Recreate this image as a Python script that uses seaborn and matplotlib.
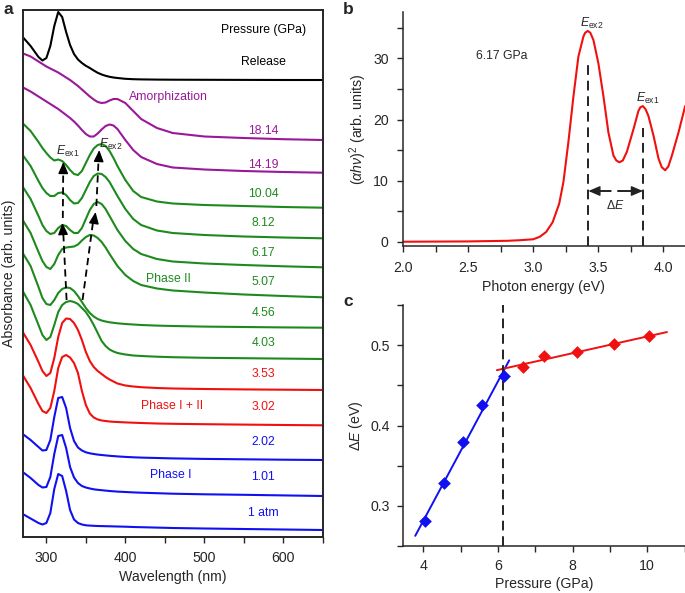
import numpy as np
import pandas as pd
import matplotlib
matplotlib.use("Agg")
import matplotlib.pyplot as plt
from matplotlib.ticker import MultipleLocator
import seaborn as sns

# ---------------- Panel a data (stacked absorbance, arb. units) ----------------
wavelength = [270, 280, 290, 295, 300, 305, 310, 315, 320, 325, 330, 335, 340, 345, 350, 355,
              360, 365, 370, 375, 380, 385, 390, 400, 410, 420, 440, 460, 500, 550, 600, 650]

abs_1atm = [2.60, 2.15, 1.70, 1.55, 1.70, 2.70, 5.10, 6.60, 6.40, 4.90, 3.00, 2.05, 1.70, 1.55, 1.47, 1.44,
            1.42, 1.40, 1.39, 1.38, 1.37, 1.36, 1.35, 1.33, 1.30, 1.28, 1.24, 1.20, 1.15, 1.10, 1.05, 1.00]
abs_1_01 = [6.80, 6.20, 5.50, 5.25, 5.30, 6.30, 8.60, 10.40, 10.50, 9.20, 7.30, 6.25, 5.70, 5.40, 5.25, 5.15,
            5.07, 5.02, 4.98, 4.94, 4.90, 4.87, 4.84, 4.80, 4.76, 4.73, 4.68, 4.63, 4.57, 4.52, 4.46, 4.40]
abs_2_02 = [10.60, 10.00, 9.30, 8.95, 9.00, 10.00, 12.30, 14.20, 14.30, 13.20, 11.20, 9.90, 9.25, 8.95, 8.77, 8.67,
            8.60, 8.54, 8.50, 8.46, 8.42, 8.39, 8.36, 8.31, 8.27, 8.24, 8.20, 8.16, 8.11, 8.07, 8.03, 8.00]
abs_3_02 = [16.50, 15.20, 13.60, 12.90, 12.70, 13.20, 14.90, 17.20, 18.30, 18.50, 18.25, 17.70, 16.70, 14.90, 13.50, 12.65,
            12.25, 12.05, 11.95, 11.90, 11.85, 11.82, 11.80, 11.76, 11.73, 11.70, 11.65, 11.62, 11.58, 11.54, 11.50, 11.47]
abs_3_53 = [20.80, 19.50, 17.80, 16.90, 16.40, 16.70, 18.20, 20.30, 21.70, 22.15, 22.10, 21.70, 21.00, 20.00, 18.80, 17.90,
            17.30, 16.90, 16.60, 16.30, 16.05, 15.85, 15.65, 15.45, 15.35, 15.28, 15.20, 15.15, 15.10, 15.06, 15.03, 15.00]
abs_4_03 = [24.90, 23.50, 21.50, 20.50, 20.00, 20.30, 21.50, 22.80, 23.50, 23.80, 23.90, 23.80, 23.60, 23.20, 22.80, 22.20,
            21.50, 20.70, 19.90, 19.40, 19.05, 18.85, 18.70, 18.55, 18.45, 18.40, 18.33, 18.28, 18.22, 18.18, 18.14, 18.10]
abs_4_56 = [28.70, 27.40, 25.30, 24.20, 23.60, 23.50, 24.00, 24.70, 25.10, 25.25, 25.20, 24.90, 24.40, 23.80, 23.20, 22.70,
            22.35, 22.10, 21.95, 21.85, 21.77, 21.72, 21.67, 21.60, 21.55, 21.50, 21.44, 21.40, 21.34, 21.30, 21.26, 21.23]
abs_5_07 = [32.00, 30.70, 28.80, 27.90, 27.30, 27.10, 27.60, 28.50, 29.10, 29.25, 29.30, 29.35, 29.55, 29.95, 30.30, 30.50,
            30.45, 30.20, 29.80, 29.25, 28.60, 28.00, 27.40, 26.50, 25.90, 25.50, 25.15, 24.95, 24.75, 24.55, 24.40, 24.27]
abs_6_17 = [35.33, 34.10, 32.40, 31.50, 30.90, 30.60, 30.70, 31.20, 31.50, 31.40, 31.00, 30.70, 30.70, 31.20, 32.10, 33.00,
            33.60, 33.80, 33.60, 33.10, 32.40, 31.70, 31.00, 29.90, 29.10, 28.60, 28.10, 27.85, 27.65, 27.50, 27.37, 27.27]
abs_8_12 = [38.50, 37.40, 35.90, 35.20, 34.70, 34.40, 34.40, 34.70, 34.75, 34.50, 34.00, 33.65, 33.70, 34.20, 35.00, 35.80,
            36.40, 36.65, 36.60, 36.30, 35.80, 35.10, 34.40, 33.10, 32.10, 31.50, 30.95, 30.70, 30.50, 30.35, 30.25, 30.17]
abs_10_04 = [41.67, 40.90, 39.80, 39.20, 38.70, 38.25, 37.95, 38.05, 37.90, 37.50, 37.00, 36.60, 36.50, 36.90, 37.70, 38.50,
             39.15, 39.50, 39.60, 39.40, 38.90, 38.20, 37.40, 36.00, 34.90, 34.30, 33.85, 33.65, 33.50, 33.40, 33.30, 33.23]
abs_14_19 = [45.27, 44.85, 44.35, 44.10, 43.85, 43.60, 43.35, 43.10, 42.80, 42.50, 42.20, 41.85, 41.45, 41.00, 40.60, 40.35,
             40.35, 40.65, 41.05, 41.40, 41.55, 41.45, 41.10, 40.00, 39.00, 38.30, 37.60, 37.25, 37.05, 36.90, 36.80, 36.73]
abs_18_14 = [48.67, 48.35, 47.85, 47.60, 47.35, 47.15, 46.95, 46.75, 46.50, 46.25, 46.00, 45.70, 45.40, 45.05, 44.70, 44.35,
             44.05, 43.80, 43.70, 43.75, 43.95, 44.10, 44.10, 43.70, 42.90, 42.10, 41.20, 40.70, 40.35, 40.20, 40.08, 40.00]
abs_release = [50.30, 49.40, 48.30, 47.95, 48.20, 49.40, 51.40, 52.80, 52.30, 50.80, 49.50, 48.60, 48.05, 47.70, 47.42, 47.20,
               46.95, 46.72, 46.55, 46.42, 46.32, 46.25, 46.20, 46.12, 46.08, 46.06, 46.04, 46.03, 46.02, 46.01, 46.00, 46.00]

curve_labels = ["1 atm", "1.01", "2.02", "3.02", "3.53", "4.03", "4.56", "5.07",
                "6.17", "8.12", "10.04", "14.19", "18.14", "Release"]
curve_values = [abs_1atm, abs_1_01, abs_2_02, abs_3_02, abs_3_53, abs_4_03, abs_4_56, abs_5_07,
                abs_6_17, abs_8_12, abs_10_04, abs_14_19, abs_18_14, abs_release]

BLUE, RED, GREEN, PURPLE, BLACK = "#1010f0", "#f01010", "#1e8a1e", "#9a189a", "#000000"
curve_colors = [BLUE, BLUE, BLUE, RED, RED, GREEN, GREEN, GREEN, GREEN, GREEN, GREEN, PURPLE, PURPLE, BLACK]

# label y positions (arb. units) for the pressure values
label_y = [2.73, 6.33, 9.83, 13.33, 16.57, 19.67, 22.67, 25.83, 28.7, 31.7, 34.6, 37.5, 40.9, 47.77]

# ---------------- Panel b data ----------------
photon_energy = [2.0, 2.5, 2.8, 2.9, 3.0, 3.05, 3.1, 3.15, 3.2, 3.233, 3.271, 3.31, 3.348, 3.387, 3.40, 3.42,
                 3.44, 3.464, 3.502, 3.541, 3.579, 3.618, 3.64, 3.664, 3.69, 3.721, 3.772, 3.81, 3.825, 3.844,
                 3.865, 3.887, 3.926, 3.965, 3.99, 4.016, 4.04, 4.068, 4.119, 4.17]
ahv_sq = [0.0, 0.05, 0.15, 0.25, 0.4, 0.8, 1.6, 3.2, 6.2, 9.8, 16.3, 23.8, 30.3, 33.6, 34.2, 34.5,
          34.2, 33.0, 29.2, 23.8, 17.9, 14.1, 13.3, 13.0, 13.3, 14.7, 18.4, 21.4, 22.0, 22.2,
          21.7, 20.6, 17.4, 13.6, 12.2, 11.7, 12.3, 14.1, 17.9, 22.2]
E_ex2, E_ex1 = 3.425, 3.845

# ---------------- Panel c data ----------------
p_phase1 = [4.03, 4.56, 5.07, 5.57, 6.15]
dE_phase1 = [0.281, 0.329, 0.379, 0.425, 0.461]
p_phase2 = [6.67, 7.22, 8.12, 9.10, 10.04]
dE_phase2 = [0.473, 0.486, 0.491, 0.501, 0.511]
fit_range1 = [3.78, 6.30]
fit_range2 = [5.97, 10.53]
p_transition = 6.13

# ---------------- style ----------------
sns.set_style("ticks")
plt.rcParams["font.family"] = ["Liberation Sans", "DejaVu Sans"]
plt.rcParams["mathtext.fontset"] = "custom"
plt.rcParams["mathtext.rm"] = "Liberation Sans"
plt.rcParams["mathtext.it"] = "Liberation Sans:italic"
plt.rcParams["mathtext.bf"] = "Liberation Sans:bold"
plt.rcParams["axes.linewidth"] = 1.1
plt.rcParams["xtick.major.width"] = 1.0
plt.rcParams["ytick.major.width"] = 1.0
plt.rcParams["xtick.minor.width"] = 1.0
plt.rcParams["ytick.minor.width"] = 1.0

FS_AX = 10.2
FS_TXT = 8.8
TPAD = 6

fig = plt.figure(figsize=(6.85, 5.93), dpi=100)
W, H = 685.0, 593.0


def rect(l, t, r, b):
    return [l / W, 1 - b / H, (r - l) / W, (b - t) / H]


axa = fig.add_axes(rect(22.7, 10, 322.7, 537))
axb = fig.add_axes(rect(403.3, 12, 684.5, 246))
axc = fig.add_axes(rect(403.3, 305, 684.5, 546))

# ---------------- Panel a ----------------
rows = []
for lab, vals in zip(curve_labels, curve_values):
    for w, v in zip(wavelength, vals):
        rows.append({"Wavelength": w, "Absorbance": v, "Pressure": lab})
df_a = pd.DataFrame(rows)
palette = dict(zip(curve_labels, curve_colors))
sns.lineplot(data=df_a, x="Wavelength", y="Absorbance", hue="Pressure", hue_order=curve_labels,
             palette=palette, legend=False, sort=False, estimator=None, linewidth=1.5, ax=axa)
axa.set_xlim(270, 650)
axa.set_ylim(0.3, 53.0)
axa.set_yticks([])
axa.xaxis.set_major_locator(MultipleLocator(100))
axa.xaxis.set_minor_locator(MultipleLocator(50))
axa.tick_params(axis="x", which="both", direction="out", length=4, labelsize=FS_AX, pad=TPAD)
axa.set_xlabel("Wavelength (nm)", fontsize=FS_AX, labelpad=4)
axa.set_ylabel("Absorbance (arb. units)", fontsize=FS_AX, labelpad=5)
for s in axa.spines.values():
    s.set_linewidth(1.4)

label_x = 575
axa.text(label_x, 51.0, "Pressure (GPa)", ha="center", va="center", fontsize=FS_TXT, color=BLACK)
for lab, col, ly in zip(curve_labels, curve_colors, label_y):
    axa.text(label_x, ly, lab, ha="center", va="center", fontsize=FS_TXT, color=col)
axa.text(455, 44.27, "Amorphization", ha="center", va="center", fontsize=FS_TXT, color=PURPLE)
axa.text(454, 26.07, "Phase II", ha="center", va="center", fontsize=FS_TXT, color=GREEN)
axa.text(459, 13.43, "Phase I + II", ha="center", va="center", fontsize=FS_TXT, color=RED)
axa.text(457, 6.5, "Phase I", ha="center", va="center", fontsize=FS_TXT, color=BLUE)
axa.text(327, 38.9, r"$E_{\rm ex1}$", ha="center", va="center", fontsize=FS_TXT)
axa.text(382, 39.6, r"$E_{\rm ex2}$", ha="center", va="center", fontsize=FS_TXT)

# dashed guide arrows following the exciton peaks
arrow_paths = [((325.6, 24.0), (320.3, 31.7)), ((320.8, 32.2), (321.5, 37.8)),
               ((345.8, 24.0), (362.3, 32.8)), ((363.3, 33.4), (367.0, 39.0))]
for (x0, y0), (x1, y1) in arrow_paths:
    axa.plot([x0, x1 - 0.2 * (x1 - x0)], [y0, y1 - 0.12 * (y1 - y0)], ls=(0, (4, 2.5)), color="k", lw=1.3)
    axa.annotate("", xy=(x1, y1), xytext=(x1 - 0.12 * (x1 - x0), y1 - 0.12 * (y1 - y0)),
                 arrowprops=dict(arrowstyle="-|>,head_length=0.7,head_width=0.3", color="k", lw=1.0,
                                 mutation_scale=10, shrinkA=0, shrinkB=0))

# ---------------- Panel b ----------------
df_b = pd.DataFrame({"E": photon_energy, "ahv": ahv_sq})
sns.lineplot(data=df_b, x="E", y="ahv", color=RED, linewidth=1.5, sort=False, estimator=None, ax=axb)
axb.set_xlim(2.0, 4.165)
axb.set_ylim(-0.7, 37.6)
axb.xaxis.set_major_locator(MultipleLocator(0.5))
axb.xaxis.set_minor_locator(MultipleLocator(0.25))
axb.yaxis.set_major_locator(MultipleLocator(10))
axb.yaxis.set_minor_locator(MultipleLocator(5))
axb.xaxis.set_major_formatter(matplotlib.ticker.FormatStrFormatter("%.1f"))
axb.tick_params(which="both", direction="out", length=4.5, labelsize=FS_AX, pad=TPAD)
axb.set_xlabel("Photon energy (eV)", fontsize=FS_AX, labelpad=4)
axb.set_ylabel(r"$(\alpha h\nu)^2$ (arb. units)", fontsize=FS_AX, labelpad=3)
sns.despine(ax=axb)
axb.plot([E_ex2, E_ex2], [-0.7, 29.5], ls=(0, (5, 3)), color="#222222", lw=1.4)
axb.plot([E_ex1, E_ex1], [-0.7, 18.6], ls=(0, (5, 3)), color="#222222", lw=1.4)
axb.plot([E_ex2 + 0.03, E_ex1 - 0.03], [8.3, 8.3], ls=(0, (10, 3)), color="#222222", lw=1.4)
for xa, xb in [(E_ex2 + 0.05, E_ex2), (E_ex1 - 0.05, E_ex1)]:
    axb.annotate("", xy=(xb, 8.3), xytext=(xa, 8.3),
                 arrowprops=dict(arrowstyle="-|>,head_length=0.7,head_width=0.3", color="#222222", lw=1.0,
                                 mutation_scale=10, shrinkA=0, shrinkB=0))
axb.text(3.635, 6.0, r"$\Delta E$", ha="center", va="center", fontsize=FS_TXT)
axb.text(2.76, 30.4, "6.17 GPa", ha="center", va="center", fontsize=FS_TXT)
axb.text(3.455, 35.7, r"$E_{\rm ex2}$", ha="center", va="center", fontsize=FS_TXT)
axb.text(3.885, 23.4, r"$E_{\rm ex1}$", ha="center", va="center", fontsize=FS_TXT)

# ---------------- Panel c ----------------
fit1 = np.polyfit(p_phase1, dE_phase1, 1)
fit2 = np.polyfit(p_phase2, dE_phase2, 1)
sns.lineplot(x=fit_range1, y=np.polyval(fit1, fit_range1), color=BLUE, linewidth=1.4, ax=axc)
sns.lineplot(x=fit_range2, y=np.polyval(fit2, fit_range2), color=RED, linewidth=1.4, ax=axc)
sns.scatterplot(x=p_phase1, y=dE_phase1, marker="D", s=42, color=BLUE, edgecolor=BLUE, linewidth=0, ax=axc, zorder=3)
sns.scatterplot(x=p_phase2, y=dE_phase2, marker="D", s=42, color=RED, edgecolor=RED, linewidth=0, ax=axc, zorder=3)
axc.axvline(p_transition, ls=(0, (5, 3)), color="#222222", lw=1.4)
axc.set_xlim(3.46, 11.0)
axc.set_ylim(0.25, 0.55)
axc.xaxis.set_major_locator(MultipleLocator(2))
axc.xaxis.set_minor_locator(MultipleLocator(1))
axc.yaxis.set_major_locator(MultipleLocator(0.1))
axc.yaxis.set_minor_locator(MultipleLocator(0.05))
axc.tick_params(which="both", direction="out", length=4.5, labelsize=FS_AX, pad=TPAD - 1)
axc.set_xlabel("Pressure (GPa)", fontsize=FS_AX, labelpad=3)
axc.set_ylabel(r"$\Delta E$ (eV)", fontsize=FS_AX, labelpad=4)
sns.despine(ax=axc)

# panel letters
fig.text(3 / W, 1 - 10 / H, "a", fontsize=12.5, fontweight="bold", va="center", ha="left")
fig.text(343 / W, 1 - 10 / H, "b", fontsize=12.5, fontweight="bold", va="center", ha="left")
fig.text(343 / W, 1 - 301 / H, "c", fontsize=12.5, fontweight="bold", va="center", ha="left")

fig.savefig("out.png", dpi=100)
